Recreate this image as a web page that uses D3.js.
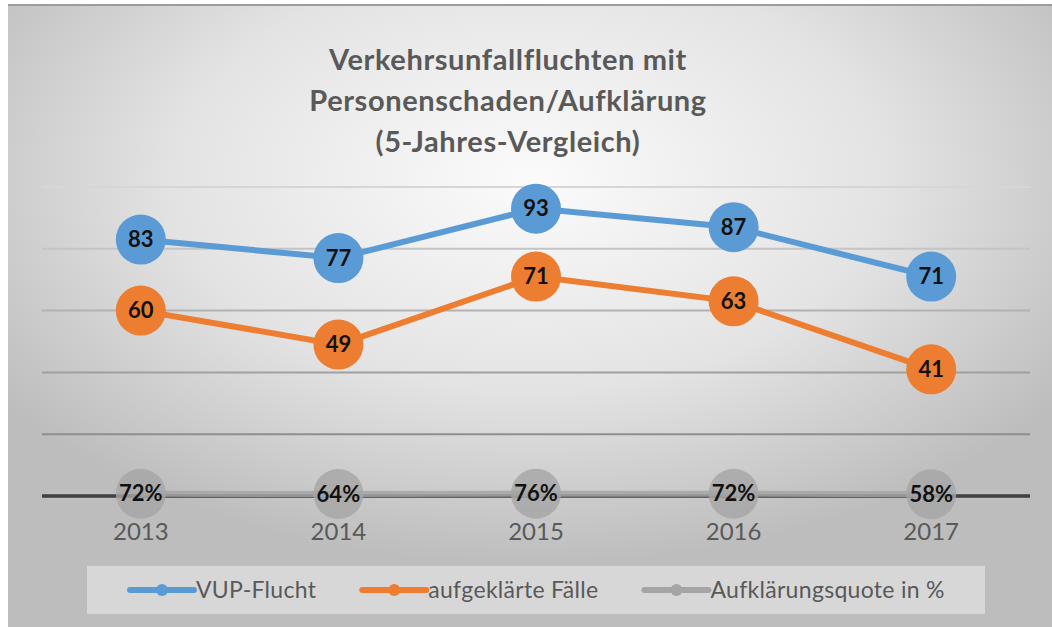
<!DOCTYPE html>
<html>
<head>
<meta charset="utf-8">
<script src="https://cdn.jsdelivr.net/npm/d3@7"></script>
<style>
  body { margin: 0; background: #fff; }
  text { font-family: Lato, "Open Sans", sans-serif; }
</style>
</head>
<body>
<div id="chart"></div>
<script>
// chart data
const years = ["2013", "2014", "2015", "2016", "2017"];
const vupFlucht = [83, 77, 93, 87, 71];
const aufgeklaert = [60, 49, 71, 63, 41];
const quote = [0.72, 0.64, 0.76, 0.72, 0.58];
const seriesNames = ["VUP-Flucht", "aufgeklärte Fälle", "Aufklärungsquote in %"];
const yTicks = [0, 20, 40, 60, 80, 100];
const titleLines = ["Verkehrsunfallfluchten mit", "Personenschaden/Aufklärung", "(5-Jahres-Vergleich)"];

const width = 1052, height = 627;
const colors = ["#5b9bd5", "#ed7d31", "#a5a5a5"];

const svg = d3.select("#chart").append("svg")
    .attr("width", width)
    .attr("height", height);

// background gradient
const defs = svg.append("defs");
const grad = defs.append("radialGradient")
    .attr("id", "bg")
    .attr("cx", "50%").attr("cy", "28%").attr("r", "62%");
grad.append("stop").attr("offset", "0%").attr("stop-color", "#fbfbfb");
grad.append("stop").attr("offset", "55%").attr("stop-color", "#e3e3e3");
grad.append("stop").attr("offset", "100%").attr("stop-color", "#bdbdbd");

svg.append("rect")
    .attr("x", 8).attr("y", 4)
    .attr("width", width - 8).attr("height", height - 4)
    .attr("fill", "url(#bg)");
svg.append("line")
    .attr("x1", 8).attr("x2", width)
    .attr("y1", 5).attr("y2", 5)
    .attr("stroke", "#9c9c9c").attr("stroke-width", 2);

// title
svg.append("text")
    .attr("text-anchor", "middle")
    .attr("font-weight", "bold")
    .attr("font-size", 29)
    .attr("letter-spacing", 0.6)
    .attr("fill", "#595959")
    .selectAll("tspan")
    .data(titleLines)
    .join("tspan")
    .attr("x", 508)
    .attr("y", (d, i) => 70 + i * 41)
    .text(d => d);

// scales
const x = d3.scaleBand().domain(years).range([42, 1030]);
const y = d3.scaleLinear().domain([0, 100]).range([496, 187]);
const cx = d => x(d) + x.bandwidth() / 2;

// gridlines
const gridColor = d3.interpolateRgb("#d6d6d6", "#8e8e8e");
svg.append("g")
    .selectAll("line")
    .data(yTicks.filter(t => t > 0))
    .join("line")
    .attr("x1", 42).attr("x2", 1030)
    .attr("y1", d => y(d)).attr("y2", d => y(d))
    .attr("stroke", (d, i, n) => gridColor(1 - i / (n.length - 1)))
    .attr("stroke-width", 2);

// axis baseline
svg.append("line")
    .attr("x1", 42).attr("x2", 1030)
    .attr("y1", y(0)).attr("y2", y(0))
    .attr("stroke", "#404040").attr("stroke-width", 3.5);

// series
const series = [vupFlucht, aufgeklaert, quote];
const line = d3.line().x((d, i) => cx(years[i])).y(d => y(d));
const fmt = [d => d, d => d, d => Math.round(d * 100) + "%"];

[2, 0, 1].forEach(s => {
    const g = svg.append("g");
    g.append("path")
        .datum(series[s])
        .attr("d", line)
        .attr("fill", "none")
        .attr("stroke", colors[s])
        .attr("stroke-width", 6)
        .attr("stroke-opacity", s === 2 ? 0.85 : 1);
    g.selectAll("circle")
        .data(series[s])
        .join("circle")
        .attr("cx", (d, i) => cx(years[i]))
        .attr("cy", d => y(d))
        .attr("r", 25)
        .attr("fill", colors[s])
        .attr("fill-opacity", s === 2 ? 0.8 : 1);
    g.selectAll("text")
        .data(series[s])
        .join("text")
        .attr("x", (d, i) => cx(years[i]))
        .attr("y", d => y(d) + 7.5)
        .attr("text-anchor", "middle")
        .attr("font-weight", "bold")
        .attr("font-size", 22)
        .attr("fill", "#111")
        .text(fmt[s]);
});

// x axis labels on top
const xAxis = svg.append("g")
    .attr("transform", `translate(0,${y(0)})`)
    .call(d3.axisBottom(x).tickSize(0).tickPadding(27));
xAxis.select(".domain").remove();
xAxis.selectAll(".tick text")
    .attr("font-size", 24)
    .attr("fill", "#595959")
    .style("font-family", "Lato, sans-serif");

// legend
const legend = svg.append("g");
legend.append("rect")
    .attr("x", 87).attr("y", 566)
    .attr("width", 898).attr("height", 48)
    .attr("fill", "#ffffff").attr("fill-opacity", 0.4);

let lx = 130;
seriesNames.forEach((name, i) => {
    const item = legend.append("g");
    item.append("line")
        .attr("x1", lx).attr("x2", lx + 64)
        .attr("y1", 590).attr("y2", 590)
        .attr("stroke", colors[i]).attr("stroke-width", 6)
        .attr("stroke-linecap", "round");
    item.append("circle")
        .attr("cx", lx + 32).attr("cy", 590).attr("r", 6)
        .attr("fill", colors[i]);
    const t = item.append("text")
        .attr("x", lx + 66).attr("y", 598)
        .attr("font-size", 23)
        .attr("letter-spacing", 0.3)
        .attr("fill", "#595959")
        .text(name);
    lx += 66 + t.node().getComputedTextLength() + 46;
});
</script>
</body>
</html>
